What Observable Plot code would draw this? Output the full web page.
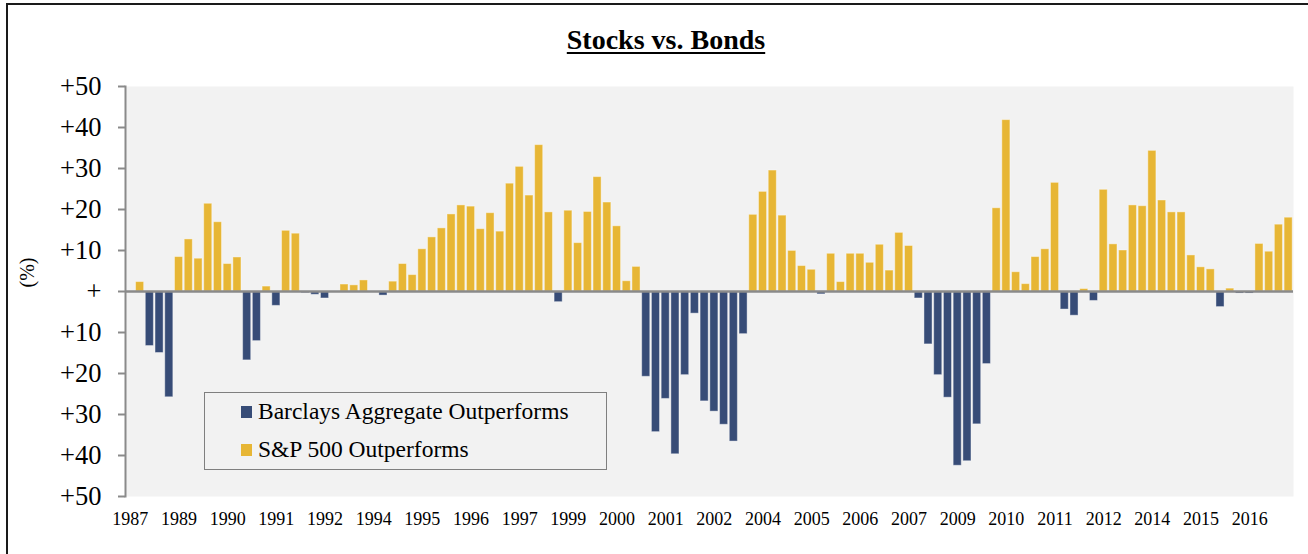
<!DOCTYPE html>
<html>
<head>
<meta charset="utf-8">
<script src="https://cdn.jsdelivr.net/npm/d3@7"></script>
<script src="https://cdn.jsdelivr.net/npm/@observablehq/plot@0.6"></script>
<style>
  html, body { margin: 0; padding: 0; background: #fff; }
  #wrap { position: relative; width: 1308px; height: 554px; overflow: hidden; font-family: "Liberation Serif", "Times New Roman", serif; }
  #border { position: absolute; left: 6px; top: 3px; width: 1400px; height: 700px; border-left: 2px solid #1a1a1a; border-top: 2px solid #1a1a1a; box-sizing: border-box; pointer-events: none; }
  #title { position: absolute; left: 0; width: 1332px; top: 24px; text-align: center; font-weight: bold; font-size: 28px; line-height: 32px; color: #000; }
  #title span { text-decoration: underline; text-decoration-thickness: 2px; text-underline-offset: 3px; }
  #legend { position: absolute; left: 204px; top: 392px; width: 403px; height: 78px; box-sizing: border-box; border: 1px solid #7f7f7f; background: #f2f2f2; }
  .item { position: absolute; left: 36px; font-size: 23.5px; line-height: 26px; color: #000; white-space: nowrap; }
  .sw { display: inline-block; width: 11px; height: 12px; margin-right: 6px; vertical-align: 1px; }
  #chart { position: absolute; left: 0; top: 0; }
</style>
</head>
<body>
<div id="wrap">
  <div id="chart"></div>
  <div id="title"><span>Stocks vs. Bonds</span></div>
  <div id="legend"></div>
  <div id="border"></div>
</div>
<script>
// Quarterly difference (S&P 500 minus Barclays Aggregate), %, 1987 Q4 .. 2017 Q3
const spread = [
  0, 2.3, -13.3, -15.0, -25.8, 8.4, 12.7, 8.0, 21.4, 16.9,
  6.7, 8.3, -16.8, -12.1, 1.2, -3.5, 14.8, 14.1, -0.4, -0.8,
  -1.7, 0, 1.7, 1.5, 2.7, 0, -1.0, 2.4, 6.7, 4.0,
  10.3, 13.2, 15.4, 18.8, 21.0, 20.7, 15.2, 19.1, 14.6, 26.3,
  30.4, 23.4, 35.7, 19.3, -2.6, 19.7, 11.8, 19.4, 27.9, 21.7,
  15.9, 2.5, 6.0, -20.8, -34.3, -26.2, -39.7, -20.4, -5.4, -26.8,
  -29.3, -32.5, -36.6, -10.4, 18.7, 24.3, 29.5, 18.5, 9.9, 6.2,
  5.3, -0.7, 9.2, 2.3, 9.2, 9.2, 7.0, 11.4, 5.1, 14.3,
  11.1, -1.7, -12.9, -20.4, -25.9, -42.5, -41.4, -32.4, -17.7, 20.3,
  41.8, 4.7, 1.8, 8.4, 10.3, 26.5, -4.4, -5.9, 0.6, -2.3,
  24.8, 11.5, 10.0, 21.0, 20.8, 34.3, 22.2, 19.3, 19.3, 8.8,
  5.9, 5.4, -3.8, 0.7, -0.5, -0.5, 11.6, 9.7, 16.3, 18.0
];

// Categories: quarter periods
const quarters = [];
for (let i = 0; i < spread.length; i++) {
  const t = 1987 * 4 + 3 + i;
  quarters.push(Math.floor(t / 4) + "Q" + (t % 4 + 1));
}

// X tick labels, shown every 5th quarter
const xTickLabels = ["1987","1989","1990","1991","1992","1994","1995","1996","1997","1999","2000","2001",
                     "2002","2004","2005","2006","2007","2009","2010","2011","2012","2014","2015","2016"];
const xTickStep = 5;

// Y ticks and their printed labels
const yTicks = [50, 40, 30, 20, 10, 0, -10, -20, -30, -40, -50];
const yTickLabels = ["+50","+40","+30","+20","+10","+","+10","+20","+30","+40","+50"];

const seriesNames = ["Barclays Aggregate Outperforms", "S&P 500 Outperforms"];
const seriesColors = ["#374c77", "#e7b635"];

const data = spread.map((v, i) => ({q: quarters[i], v, s: v < 0 ? seriesNames[0] : seriesNames[1]}));
const xTickQuarters = xTickLabels.map((_, k) => quarters[k * xTickStep]);

const chart = Plot.plot({
  width: 1308,
  height: 554,
  marginLeft: 125,
  marginRight: 15,
  marginTop: 86,
  marginBottom: 58,
  style: {fontFamily: "'Liberation Serif', 'Times New Roman', serif", background: "transparent", color: "#000"},
  x: {type: "band", domain: quarters, paddingInner: 0.17, paddingOuter: 0.085},
  y: {domain: [-50, 50]},
  color: {domain: seriesNames, range: seriesColors},
  marks: [
    Plot.frame({fill: "#f2f2f2", stroke: "none"}),
    Plot.barY(data, {x: "q", y: "v", fill: "s", stroke: "#ffffff", strokeOpacity: 0.4, strokeWidth: 1}),
    Plot.ruleY([0], {stroke: "#8a8a8a", strokeWidth: 2.5}),
    Plot.frame({anchor: "left", stroke: "#8a8a8a", strokeWidth: 2}),
    Plot.axisY({ticks: yTicks, tickFormat: d => yTickLabels[yTicks.indexOf(d)], tickSize: 7, tickPadding: 17,
                fontSize: 26.5, stroke: "#8a8a8a", strokeWidth: 2, fill: "#000", label: null}),
    Plot.axisX({ticks: xTickQuarters, tickFormat: d => xTickLabels[xTickQuarters.indexOf(d)], tickSize: 0,
                tickPadding: 16, fontSize: 18, fill: "#000", label: null}),
    Plot.text(["(%)"], {frameAnchor: "left", dx: -98, dy: -4, rotate: -90, fontSize: 20, fill: "#000"})
  ]
});
document.getElementById("chart").appendChild(chart);

// Legend
const legend = document.getElementById("legend");
seriesNames.forEach((name, i) => {
  const div = document.createElement("div");
  div.className = "item";
  div.style.top = (i === 0 ? 5 : 43) + "px";
  div.innerHTML = `<span class="sw" style="background:${seriesColors[i]}"></span>${name}`;
  legend.appendChild(div);
});
</script>
</body>
</html>
